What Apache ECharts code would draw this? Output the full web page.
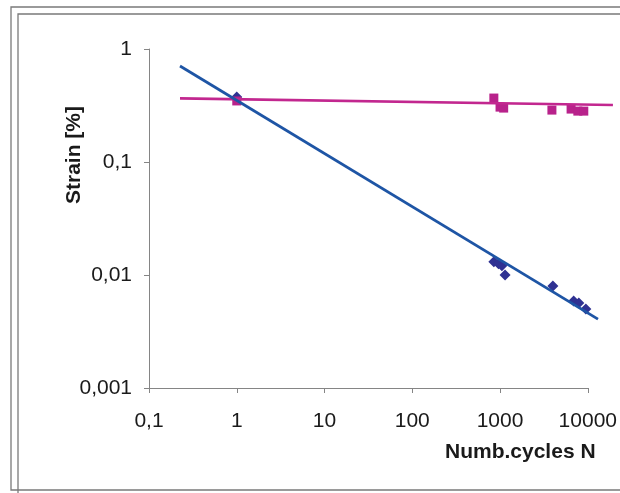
<!DOCTYPE html>
<html>
<head>
<meta charset="utf-8">
<script src="https://cdn.jsdelivr.net/npm/echarts@6/dist/echarts.min.js"></script>
<style>
  html, body { margin: 0; padding: 0; background: #fff; }
  #chart { width: 620px; height: 493px; }
</style>
</head>
<body>
<div id="chart"></div>
<script>
// measured points (diamonds / squares)
const blueN = [1, 850, 960, 1050, 1140, 4000, 6900, 7900, 9500]
const blueStrain = [0.376, 0.0131, 0.0126, 0.0121, 0.0100, 0.0080, 0.0059, 0.00565, 0.0050]
const magN = [1, 850, 1000, 1100, 3900, 6450, 7700, 9000]
const magStrain = [0.347, 0.368, 0.306, 0.300, 0.288, 0.294, 0.282, 0.282]

// trendline end points (they run past the last x tick)
const blueFitN = [0.225, 12650]
const blueFitStrain = [0.707, 0.00407]
const magFitN = [0.225, 18700]
const magFitStrain = [0.366, 0.319]

// tick labels, one per decade
const xTicks = ['0,1', '1', '10', '100', '1000', '10000']
const yTicks = ['0,001', '0,01', '0,1', '1']

const FONT = "'Liberation Sans', Arial, sans-serif"
const AXIS = '#858585'
const LEFT = 149
const DECADE_PX = 88
const WIDE_PX = 620 - LEFT   // overlay grid reaches the right edge

function pairs(xs, ys) { return xs.map((x, i) => [x, ys[i]]) }
function decade(v, min) { return Math.round(Math.log10(v) - Math.log10(min)) }

const chart = echarts.init(document.getElementById('chart'))

chart.setOption({
  backgroundColor: '#fff',
  animation: false,
  grid: [
    { left: LEFT, top: 49, width: 5 * DECADE_PX, bottom: 105 },
    // same scale, stretched to the edge, so the trendlines can overshoot
    { left: LEFT, top: 49, width: WIDE_PX, bottom: 105 }
  ],
  xAxis: [{
    type: 'log', logBase: 10, min: 0.1, max: 10000, interval: 1,
    axisLine: { lineStyle: { color: AXIS, width: 1 } },
    axisTick: { show: true, length: 5, lineStyle: { color: AXIS } },
    minorTick: { show: false },
    splitLine: { show: false },
    axisLabel: {
      margin: 23, fontSize: 21, fontFamily: FONT, color: '#1a1a1a',
      formatter: v => xTicks[decade(v, 0.1)]
    }
  }, {
    gridIndex: 1, type: 'log', logBase: 10, show: false,
    min: 0.1, max: Math.pow(10, -1 + WIDE_PX / DECADE_PX)
  }],
  yAxis: [{
    type: 'log', logBase: 10, min: 0.001, max: 1, interval: 1,
    axisLine: { show: true, lineStyle: { color: AXIS, width: 1 } },
    axisTick: { show: true, length: 5, lineStyle: { color: AXIS } },
    splitLine: { show: false },
    axisLabel: {
      margin: 17, fontSize: 21, fontFamily: FONT, color: '#1a1a1a',
      formatter: v => yTicks[decade(v, 0.001)]
    }
  }, {
    gridIndex: 1, type: 'log', logBase: 10, min: 0.001, max: 1, show: false
  }],
  graphic: [
    { type: 'polyline', silent: true, shape: { points: [[700, 7], [11, 7], [11, 490], [700, 490]] },
      style: { fill: null, stroke: '#7a7a7a', lineWidth: 1.3 } },
    { type: 'polyline', silent: true, shape: { points: [[700, 14], [18, 14], [18, 520]] },
      style: { fill: null, stroke: '#7a7a7a', lineWidth: 1.3 } },
    { type: 'text', left: 445, top: 442,
      style: { text: 'Numb.cycles N', font: "bold 21px 'Liberation Sans', Arial, sans-serif", fill: '#1a1a1a' } },
    { type: 'text', x: 64, y: 204, rotation: Math.PI / 2,
      style: { text: 'Strain [%]', font: "bold 21px 'Liberation Sans', Arial, sans-serif", fill: '#1a1a1a' } }
  ],
  series: [
    {
      type: 'scatter', symbol: 'diamond', symbolSize: 11,
      itemStyle: { color: '#2f3192', opacity: 1 },
      data: pairs(blueN, blueStrain)
    },
    {
      type: 'scatter', symbol: 'rect', symbolSize: 9,
      itemStyle: { color: '#b8228b', opacity: 1 },
      data: pairs(magN, magStrain)
    },
    {
      type: 'line', symbol: 'none', xAxisIndex: 1, yAxisIndex: 1,
      lineStyle: { color: '#c2278f', width: 2.6 },
      data: pairs(magFitN, magFitStrain)
    },
    {
      type: 'line', symbol: 'none', xAxisIndex: 1, yAxisIndex: 1,
      lineStyle: { color: '#1e55a5', width: 2.8 },
      data: pairs(blueFitN, blueFitStrain)
    }
  ]
})
</script>
</body>
</html>
